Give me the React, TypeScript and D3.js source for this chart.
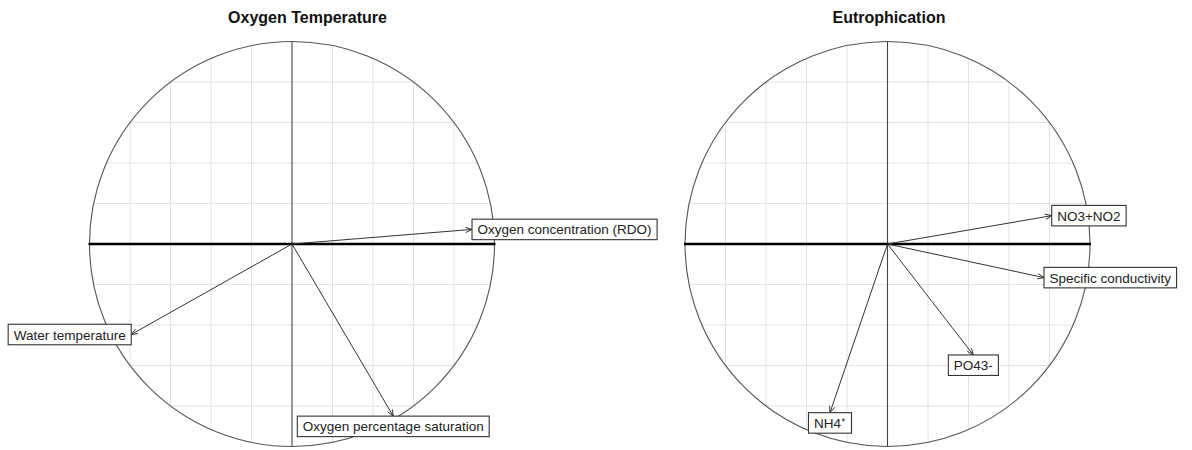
import React, { useEffect, useRef } from "react";
import * as d3 from "d3";

const leftTitle = "Oxygen Temperature";
const leftVars = ["Oxygen concentration (RDO)", "Water temperature", "Oxygen percentage saturation"];
const leftX = [0.889, -0.794, 0.5];
const leftY = [0.072, -0.447, -0.85];

const rightTitle = "Eutrophication";
const rightVars = ["NO3+NO2", "Specific conductivity", "PO43-", "NH4\u207A"];
const rightX = [0.811, 0.773, 0.424, -0.284];
const rightY = [0.14, -0.166, -0.548, -0.833];

const gridTicks = [-0.8, -0.6, -0.4, -0.2, 0.2, 0.4, 0.6, 0.8];

const W = 1192;
const H = 450;

const panels = [
  { title: leftTitle, vars: leftVars, xs: leftX, ys: leftY, cx: 292, cy: 244, R: 202.5, titleX: 307.5 },
  { title: rightTitle, vars: rightVars, xs: rightX, ys: rightY, cx: 887.5, cy: 244, R: 202.5, titleX: 889 },
];

export default function App() {
  const ref = useRef<SVGSVGElement | null>(null);
  useEffect(() => {
    const svg = d3.select(ref.current);
    svg.selectAll("*").remove();
    const font = "'Liberation Sans', Arial, Helvetica, sans-serif";
    panels.forEach((p, pi) => {
      const x = d3.scaleLinear().domain([-1, 1]).range([p.cx - p.R, p.cx + p.R]);
      const y = d3.scaleLinear().domain([-1, 1]).range([p.cy + p.R, p.cy - p.R]);
      const g = svg.append("g");
      const clipId = "clip" + pi;
      svg.append("defs").append("clipPath").attr("id", clipId)
        .append("circle").attr("cx", x(0)).attr("cy", y(0)).attr("r", p.R);
      const grid = g.append("g").attr("clip-path", `url(#${clipId})`);
      gridTicks.forEach((t) => {
        grid.append("line").attr("x1", x(t)).attr("x2", x(t)).attr("y1", y(1)).attr("y2", y(-1))
          .attr("stroke", "#e2e2e2").attr("stroke-width", 1);
        grid.append("line").attr("y1", y(t)).attr("y2", y(t)).attr("x1", x(-1)).attr("x2", x(1))
          .attr("stroke", "#e2e2e2").attr("stroke-width", 1);
      });
      g.append("circle").attr("cx", x(0)).attr("cy", y(0)).attr("r", p.R)
        .attr("fill", "none").attr("stroke", "#555").attr("stroke-width", 1.1);
      g.append("line").attr("x1", x(0)).attr("x2", x(0)).attr("y1", y(1)).attr("y2", y(-1))
        .attr("stroke", "#444").attr("stroke-width", 1.1);
      g.append("line").attr("x1", x(-1) - 1).attr("x2", x(1) + 1).attr("y1", y(0)).attr("y2", y(0))
        .attr("stroke", "#000").attr("stroke-width", 2.6);
      g.append("text").attr("x", p.titleX).attr("y", 23).attr("text-anchor", "middle")
        .attr("font-family", font).attr("font-weight", "bold").attr("font-size", 16)
        .attr("fill", "#111").text(p.title);
      p.vars.forEach((name, i) => {
        const vx = p.xs[i], vy = p.ys[i];
        const tx = x(vx), ty = y(vy);
        const ox = x(0), oy = y(0);
        g.append("line").attr("x1", ox).attr("y1", oy).attr("x2", tx).attr("y2", ty)
          .attr("stroke", "#333").attr("stroke-width", 1);
        const ang = Math.atan2(ty - oy, tx - ox);
        const L = 7, a = (22 * Math.PI) / 180;
        const hp = d3.path();
        hp.moveTo(tx - L * Math.cos(ang - a), ty - L * Math.sin(ang - a));
        hp.lineTo(tx, ty);
        hp.lineTo(tx - L * Math.cos(ang + a), ty - L * Math.sin(ang + a));
        g.append("path").attr("d", hp.toString()).attr("fill", "none").attr("stroke", "#333").attr("stroke-width", 1);
        const lg = g.append("g");
        const rect = lg.append("rect");
        const text = lg.append("text").attr("font-family", font).attr("font-size", 13.5)
          .attr("fill", "#222").attr("dominant-baseline", "central").text(name);
        const tw = (text.node() as SVGTextElement).getComputedTextLength();
        const padX = 5.5, bh = 20.5;
        const bw = tw + 2 * padX;
        let bx: number, by: number;
        if (Math.abs(vx) >= Math.abs(vy)) {
          bx = vx > 0 ? tx : tx - bw;
          by = ty - bh / 2;
        } else {
          bx = tx - bw / 2;
          by = vy < 0 ? ty : ty - bh;
        }
        rect.attr("x", bx).attr("y", by).attr("width", bw).attr("height", bh)
          .attr("fill", "#fff").attr("stroke", "#333").attr("stroke-width", 1.1);
        text.attr("x", bx + padX).attr("y", by + bh / 2 + 0.5);
      });
    });
  }, []);
  return (
    <svg ref={ref} width={W} height={H} style={{ position: "absolute", left: 0, top: 0, background: "#fff" }} />
  );
}
